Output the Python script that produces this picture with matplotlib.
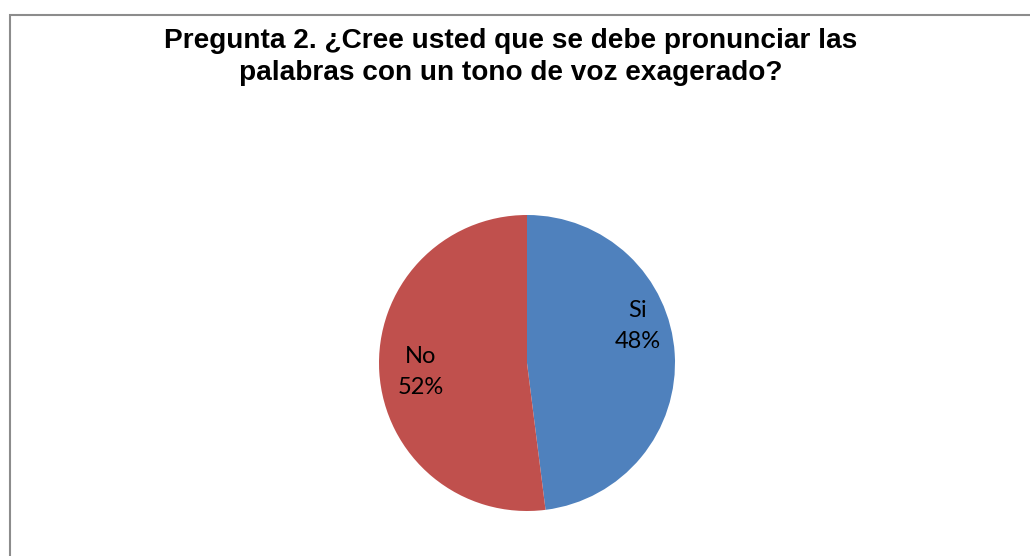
import matplotlib
matplotlib.use("Agg")
import matplotlib.pyplot as plt
from matplotlib.patches import Rectangle

# survey answers
categories = ["Si", "No"]
percentages = [48, 52]
colors = ["#4F81BD", "#C0504D"]

title = "Pregunta 2. ¿Cree usted que se debe pronunciar las\npalabras con un tono de voz exagerado?"

W, H = 1030, 556
fig = plt.figure(figsize=(W / 100, H / 100), dpi=100)

# chart area border (cut off on the right and bottom like the original)
fig.patches.append(Rectangle((9.5 / W, -1.0), 2.0, 2.0 - 14.5 / H, transform=fig.transFigure,
                             fill=False, edgecolor="#8c8c8c", linewidth=1.5))

fig.text(511 / W, 1 - 57 / H, title, ha="center", va="center", fontsize=20.2,
         fontweight="bold", family="Liberation Sans", linespacing=1.35)

# pie centred at (527, 363) with radius 148 px
cx, cy, r = 527, 363, 148
ax = fig.add_axes([(cx - r) / W, (H - cy - r) / H, 2 * r / W, 2 * r / H])
wedges, _ = ax.pie(percentages, colors=colors, startangle=90, counterclock=False,
                   radius=1.0, wedgeprops=dict(linewidth=0))
ax.set_xlim(-1, 1)
ax.set_ylim(-1, 1)
ax.set_aspect("equal")
ax.axis("off")

label_pos = [(0.75, 0.25), (-0.72, -0.06)]
for cat, pct, (lx, ly) in zip(categories, percentages, label_pos):
    ax.text(lx, ly, f"{cat}\n{pct}%", ha="center", va="center", fontsize=17,
            family="Lato", linespacing=1.55, color="black")

fig.savefig("out.png", dpi=100)
